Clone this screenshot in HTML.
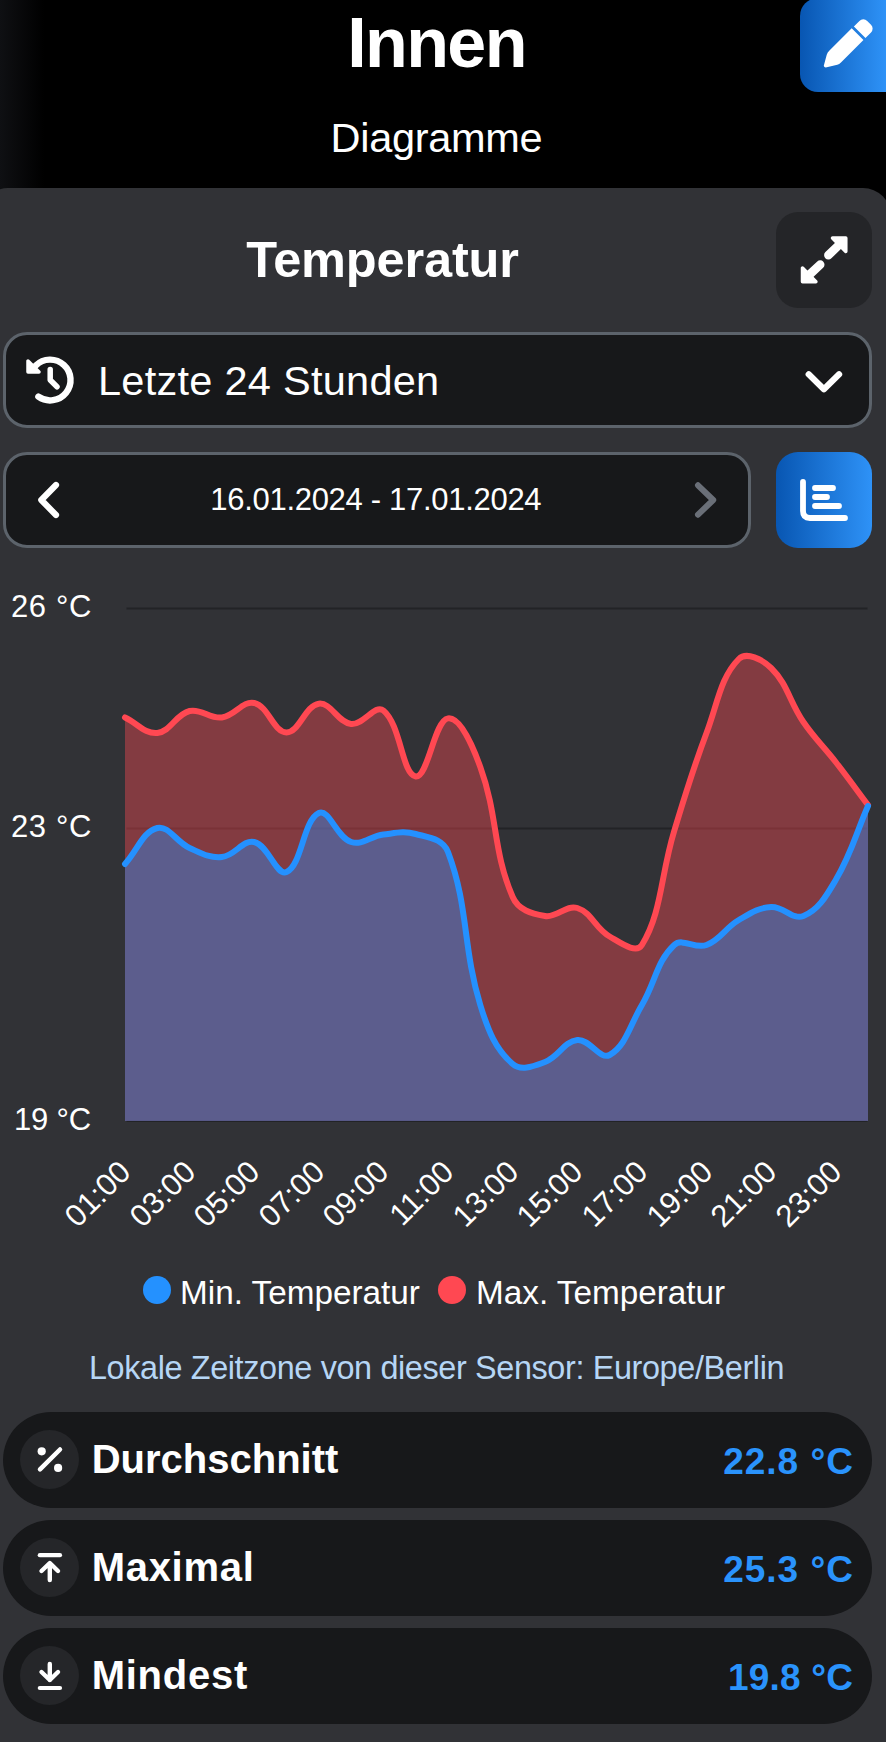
<!DOCTYPE html>
<html><head><meta charset="utf-8"><title>Innen</title>
<style>
*{margin:0;padding:0;box-sizing:border-box}
html,body{width:886px;height:1742px;overflow:hidden;background:#000;font-family:"Liberation Sans",sans-serif;color:#fff}
.a{position:absolute;white-space:nowrap}
#lg{left:0;top:0;width:44px;height:190px;background:linear-gradient(to right,#0f1013,#000)}
#title{left:0;width:873px;text-align:center;font-weight:bold;font-size:70px;line-height:1;top:8.3px;letter-spacing:-1.6px}
#sub{left:0;width:873px;text-align:center;font-size:41.5px;line-height:1;top:117.4px;letter-spacing:-0.3px}
#edit{left:800px;top:-2px;width:110px;height:94px;border-radius:18px;background:linear-gradient(to right,#0856b2 0%,#2e92f7 78%)}
#panel{left:-20px;top:188px;width:911px;height:1600px;border-radius:28px;background:#313236}
#h2{left:3px;width:759px;text-align:center;font-weight:bold;font-size:50.5px;line-height:1;top:234.9px;letter-spacing:-0.15px}
#exp{left:776px;top:212px;width:96px;height:96px;border-radius:22px;background:#242528}
.box{background:#17181a;border:3px solid #5c636b;border-radius:24px}
#dd{left:3px;top:332px;width:869px;height:96px}
#dt{left:3px;top:452px;width:748px;height:96px}
#ddt{left:98px;font-size:41.5px;line-height:1;top:359.7px;letter-spacing:0.27px}
#dtt{left:1.8px;width:748px;text-align:center;font-size:31px;line-height:1;top:483.7px;letter-spacing:-0.3px}
#cb{left:776px;top:452px;width:96px;height:96px;border-radius:22px;background:linear-gradient(to right,#0856b2,#2e92f7)}
.yl{font-size:31px;line-height:1;left:11px;letter-spacing:0.6px}
.xl{width:200px;text-align:right;font-size:31px;line-height:1;transform-origin:100% 50%;transform:rotate(-45deg);letter-spacing:0px}
.leg{font-size:33.3px;line-height:1;top:1275.5px;letter-spacing:0px}
.dot{width:28px;height:28px;border-radius:50%;top:1276px}
#tz{left:0;width:873px;text-align:center;font-size:32.4px;line-height:1;top:1352.3px;color:#b6d6f5;letter-spacing:-0.37px}
.row{left:3px;width:869px;height:96px;border-radius:48px;background:#17181a}
.ic{left:20px;width:59px;height:59px;border-radius:50%;background:#252629}
.sl{left:91.7px;font-weight:bold;font-size:40px;line-height:1;letter-spacing:0px}
.sv{right:32px;font-weight:bold;font-size:37px;line-height:1;color:#2a93fc;letter-spacing:1px}
</style></head><body>
<div class="a" id="lg"></div>
<div class="a" id="title">Innen</div>
<div class="a" id="sub">Diagramme</div>
<div class="a" id="edit"></div>
<svg class="a" style="left:0;top:0" width="886" height="100" viewBox="0 0 886 100">
 <g transform="translate(824.2,67) rotate(-45)" fill="#fff">
  <path d="M0.5 -1.1 L10.5 -6.9 Q12.6 -7.9 15 -7.9 L46.8 -7.9 L46.8 8.7 L15 8.7 Q12.6 8.7 10.8 7.7 L0.8 1.4 Q-0.4 0.2 0.5 -1.1 Z"/>
  <path d="M49.7 -7.7 L57.5 -7.7 A5.5 5.5 0 0 1 63 -2.2 L63 3.2 A5.5 5.5 0 0 1 57.5 8.7 L49.7 8.7 Z"/>
 </g>
</svg>
<div class="a" id="panel"></div>
<div class="a" id="h2">Temperatur</div>
<div class="a" id="exp"></div>
<svg class="a" style="left:776px;top:212px" width="96" height="96" viewBox="0 0 96 96" fill="#fff" stroke="#fff" stroke-linejoin="round" stroke-linecap="round">
 <path d="M56.5 26 L69.8 26 L69.8 39.4 Z" stroke-width="3.5"/>
 <path d="M64 32 L52.4 43.2" stroke-width="8.6"/>
 <path d="M26.5 56 L26.5 69.8 L39.9 69.8 Z" stroke-width="3.5"/>
 <path d="M32 64 L44.2 52.6" stroke-width="8.6"/>
</svg>
<div class="a box" id="dd"></div>
<svg class="a" style="left:0;top:330px" width="100" height="100" viewBox="0 330 100 100" fill="none" stroke="#fff" stroke-linecap="round" stroke-linejoin="round">
 <path d="M35.8 365.5 A20.4 20.4 0 1 1 38.4 396.7" stroke-width="6.4"/>
 <path d="M28 361 L28 372 L39 372 Z" fill="#fff" stroke-width="3.5"/>
 <path d="M50.2 369.5 L50.2 380 L57 386.8" stroke-width="5.5"/>
</svg>
<div class="a" id="ddt">Letzte 24 Stunden</div>
<svg class="a" style="left:800px;top:365px" width="50" height="32" viewBox="800 365 50 32" fill="none" stroke="#fff" stroke-width="6.2" stroke-linecap="round" stroke-linejoin="round">
 <path d="M808.7 374.3 L823.9 389.2 L839.1 374.3"/>
</svg>
<div class="a box" id="dt"></div>
<svg class="a" style="left:30px;top:475px" width="40" height="50" viewBox="30 475 40 50" fill="none" stroke="#fff" stroke-width="6.2" stroke-linecap="round" stroke-linejoin="round">
 <path d="M56 485 L41.3 500 L56 515"/>
</svg>
<svg class="a" style="left:685px;top:475px" width="40" height="50" viewBox="685 475 40 50" fill="none" stroke="#6a6f78" stroke-width="6" stroke-linecap="round" stroke-linejoin="round">
 <path d="M698 485.3 L713.2 500 L698 514.7"/>
</svg>
<div class="a" id="dtt">16.01.2024 - 17.01.2024</div>
<div class="a" id="cb"></div>
<svg class="a" style="left:776px;top:452px" width="96" height="95" viewBox="776 452 96 95" fill="none" stroke="#fff" stroke-width="5.8" stroke-linecap="round" stroke-linejoin="round">
 <path d="M803 482 L803 511 Q803 518 810 518 L845 518"/>
 <path d="M815 488 L833 488 M815 497 L827 497 M815 506 L839 506"/>
</svg>
<svg class="a" style="left:0;top:560px" width="886" height="580" viewBox="0 560 886 580">
 <rect x="126.5" y="607.5" width="741" height="2" fill="#222326"/>
 <rect x="126.5" y="827.5" width="741" height="2" fill="#222326"/>
 <rect x="126.5" y="1120" width="741" height="2" fill="#222326"/>
 <path d="M125.0 717.5 C137.9 723.7 144.9 734.2 157.3 733.0 C170.8 731.6 175.6 714.4 189.6 711.0 C201.4 708.2 209.5 719.0 221.9 717.5 C235.3 715.8 242.6 700.3 254.2 703.0 C268.5 706.3 273.5 732.3 286.5 732.4 C299.4 732.5 305.1 705.5 318.8 703.7 C330.9 702.1 337.7 722.6 351.1 724.0 C363.5 725.3 375.1 703.7 383.4 710.5 C400.9 724.7 402.2 774.8 415.7 776.5 C428.0 778.0 434.3 720.4 448.0 718.4 C460.1 716.6 472.5 745.3 480.3 767.0 C498.3 816.8 492.5 850.4 512.7 897.0 C518.3 910.0 531.3 913.7 545.0 916.0 C557.1 918.1 566.0 904.4 577.3 908.0 C591.8 912.6 595.0 928.2 609.6 936.5 C620.9 943.0 636.2 954.3 641.9 945.0 C662.0 912.1 660.4 876.3 674.2 831.0 C686.2 791.5 692.0 771.6 706.5 733.0 C717.8 702.8 720.5 677.4 738.8 659.0 C746.4 651.4 762.1 659.2 771.1 668.0 C787.9 684.4 789.2 701.3 803.4 722.0 C815.0 738.9 823.1 745.8 835.7 762.0 C848.9 779.0 855.1 787.8 868.0 805.0 L868.0 1121.0 L125.0 1121.0 Z" fill="#ff4852" fill-opacity="0.4"/>
 <path d="M125.0 717.5 C137.9 723.7 144.9 734.2 157.3 733.0 C170.8 731.6 175.6 714.4 189.6 711.0 C201.4 708.2 209.5 719.0 221.9 717.5 C235.3 715.8 242.6 700.3 254.2 703.0 C268.5 706.3 273.5 732.3 286.5 732.4 C299.4 732.5 305.1 705.5 318.8 703.7 C330.9 702.1 337.7 722.6 351.1 724.0 C363.5 725.3 375.1 703.7 383.4 710.5 C400.9 724.7 402.2 774.8 415.7 776.5 C428.0 778.0 434.3 720.4 448.0 718.4 C460.1 716.6 472.5 745.3 480.3 767.0 C498.3 816.8 492.5 850.4 512.7 897.0 C518.3 910.0 531.3 913.7 545.0 916.0 C557.1 918.1 566.0 904.4 577.3 908.0 C591.8 912.6 595.0 928.2 609.6 936.5 C620.9 943.0 636.2 954.3 641.9 945.0 C662.0 912.1 660.4 876.3 674.2 831.0 C686.2 791.5 692.0 771.6 706.5 733.0 C717.8 702.8 720.5 677.4 738.8 659.0 C746.4 651.4 762.1 659.2 771.1 668.0 C787.9 684.4 789.2 701.3 803.4 722.0 C815.0 738.9 823.1 745.8 835.7 762.0 C848.9 779.0 855.1 787.8 868.0 805.0" fill="none" stroke="#ff4852" stroke-width="6" stroke-linecap="round"/>
 <path d="M125.0 864.0 C137.9 849.6 142.8 831.6 157.3 828.0 C168.7 825.2 175.9 841.8 189.6 848.0 C201.7 853.4 209.4 858.2 221.9 857.0 C235.2 855.8 242.7 839.3 254.2 842.0 C268.5 845.3 276.3 876.6 286.5 872.0 C302.1 865.0 303.1 820.3 318.8 813.0 C329.0 808.3 336.5 837.1 351.1 842.0 C362.3 845.7 370.3 836.2 383.4 834.6 C396.2 833.0 403.7 830.8 415.7 834.0 C429.5 837.7 443.1 838.9 448.0 852.0 C468.9 907.3 462.3 945.7 480.3 1005.0 C488.1 1030.5 495.2 1048.6 512.7 1064.0 C521.0 1071.4 533.2 1066.3 545.0 1062.0 C559.1 1056.7 563.7 1041.5 577.3 1040.0 C589.6 1038.7 599.9 1060.2 609.6 1055.0 C625.7 1046.2 629.8 1025.5 641.9 1005.0 C655.7 981.5 656.6 961.3 674.2 945.0 C682.5 937.3 695.1 949.4 706.5 945.0 C720.9 939.4 724.8 928.2 738.8 920.0 C750.7 913.0 757.9 907.8 771.1 907.0 C783.8 906.2 792.8 920.4 803.4 916.0 C818.7 909.6 826.0 896.5 835.7 880.0 C851.9 852.5 855.1 835.6 868.0 806.0 L868.0 1121.0 L125.0 1121.0 Z" fill="#2491ff" fill-opacity="0.4"/>
 <path d="M125.0 864.0 C137.9 849.6 142.8 831.6 157.3 828.0 C168.7 825.2 175.9 841.8 189.6 848.0 C201.7 853.4 209.4 858.2 221.9 857.0 C235.2 855.8 242.7 839.3 254.2 842.0 C268.5 845.3 276.3 876.6 286.5 872.0 C302.1 865.0 303.1 820.3 318.8 813.0 C329.0 808.3 336.5 837.1 351.1 842.0 C362.3 845.7 370.3 836.2 383.4 834.6 C396.2 833.0 403.7 830.8 415.7 834.0 C429.5 837.7 443.1 838.9 448.0 852.0 C468.9 907.3 462.3 945.7 480.3 1005.0 C488.1 1030.5 495.2 1048.6 512.7 1064.0 C521.0 1071.4 533.2 1066.3 545.0 1062.0 C559.1 1056.7 563.7 1041.5 577.3 1040.0 C589.6 1038.7 599.9 1060.2 609.6 1055.0 C625.7 1046.2 629.8 1025.5 641.9 1005.0 C655.7 981.5 656.6 961.3 674.2 945.0 C682.5 937.3 695.1 949.4 706.5 945.0 C720.9 939.4 724.8 928.2 738.8 920.0 C750.7 913.0 757.9 907.8 771.1 907.0 C783.8 906.2 792.8 920.4 803.4 916.0 C818.7 909.6 826.0 896.5 835.7 880.0 C851.9 852.5 855.1 835.6 868.0 806.0" fill="none" stroke="#2491ff" stroke-width="6" stroke-linecap="round"/>
</svg>
<div class="a yl" style="top:591.1px">26 °C</div>
<div class="a yl" style="top:811.1px">23 °C</div>
<div class="a yl" style="top:1103.7px;left:14px;letter-spacing:-0.2px">19 °C</div>
<div class="a xl" style="left:-75.0px;top:1151px">01:00</div><div class="a xl" style="left:-10.4px;top:1151px">03:00</div><div class="a xl" style="left:54.2px;top:1151px">05:00</div><div class="a xl" style="left:118.8px;top:1151px">07:00</div><div class="a xl" style="left:183.4px;top:1151px">09:00</div><div class="a xl" style="left:248.0px;top:1151px">11:00</div><div class="a xl" style="left:312.7px;top:1151px">13:00</div><div class="a xl" style="left:377.3px;top:1151px">15:00</div><div class="a xl" style="left:441.9px;top:1151px">17:00</div><div class="a xl" style="left:506.5px;top:1151px">19:00</div><div class="a xl" style="left:571.1px;top:1151px">21:00</div><div class="a xl" style="left:635.7px;top:1151px">23:00</div>
<div class="a dot" style="left:142.5px;background:#2491ff"></div>
<div class="a leg" style="left:180px">Min. Temperatur</div>
<div class="a dot" style="left:438px;background:#ff4852"></div>
<div class="a leg" style="left:476px">Max. Temperatur</div>
<div class="a" id="tz">Lokale Zeitzone von dieser Sensor: Europe/Berlin</div>
<div class="a row" style="top:1412px"></div>
<div class="a ic" style="top:1429.5px"></div>
<svg class="a" style="left:20px;top:1429px" width="60" height="60" viewBox="20 1429 60 60" fill="#fff" stroke="#fff" stroke-linecap="round">
 <circle cx="41.7" cy="1451.3" r="4.1" stroke="none"/><circle cx="58.1" cy="1467.9" r="4.1" stroke="none"/>
 <path d="M40 1469.3 L60 1449.5" stroke-width="4.5"/>
</svg>
<div class="a sl" style="top:1438.6px">Durchschnitt</div>
<div class="a sv" style="top:1443.2px">22.8 °C</div>
<div class="a row" style="top:1520px"></div>
<div class="a ic" style="top:1537.5px"></div>
<svg class="a" style="left:20px;top:1537px" width="60" height="60" viewBox="20 1537 60 60" fill="none" stroke="#fff" stroke-linecap="round" stroke-linejoin="round">
 <path d="M39.8 1555.2 L60 1555.2" stroke-width="4.2"/>
 <path d="M49.8 1580 L49.8 1563.5 M41.5 1571 L49.8 1563 L58 1571" stroke-width="4.4"/>
</svg>
<div class="a sl" style="top:1546.6px;letter-spacing:0.7px">Maximal</div>
<div class="a sv" style="top:1551.2px">25.3 °C</div>
<div class="a row" style="top:1628px"></div>
<div class="a ic" style="top:1645.5px"></div>
<svg class="a" style="left:20px;top:1645px" width="60" height="60" viewBox="20 1645 60 60" fill="none" stroke="#fff" stroke-linecap="round" stroke-linejoin="round">
 <path d="M39.8 1688 L60 1688" stroke-width="4.2"/>
 <path d="M49.8 1664 L49.8 1680 M41.5 1672 L49.8 1680 L58 1672" stroke-width="4.4"/>
</svg>
<div class="a sl" style="top:1654.6px;letter-spacing:0.75px">Mindest</div>
<div class="a sv" style="top:1659.2px;letter-spacing:0.2px;right:32.8px">19.8 °C</div>
</body></html>
